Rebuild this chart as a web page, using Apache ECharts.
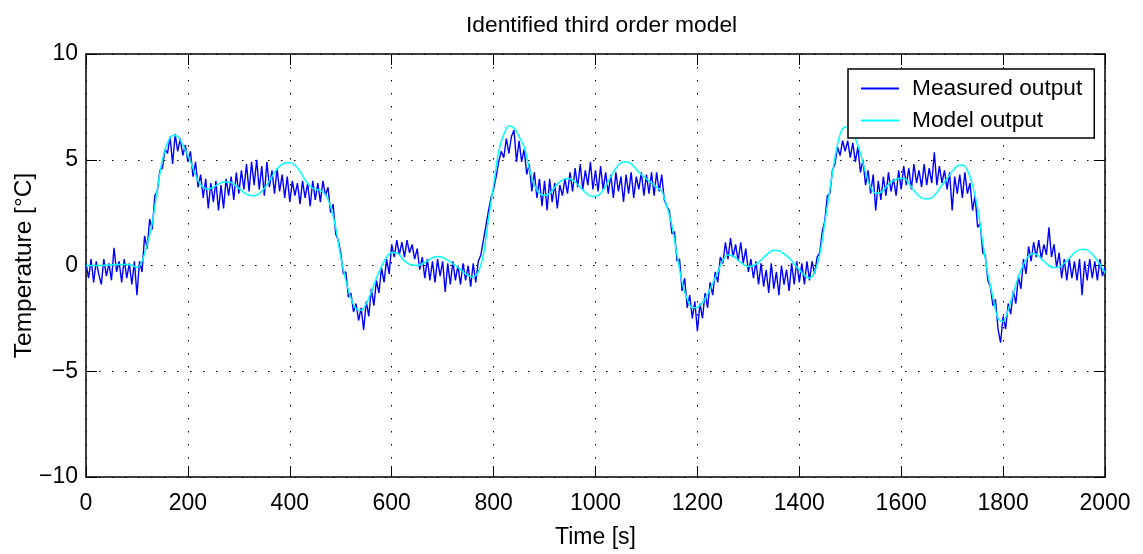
<!DOCTYPE html>
<html>
<head>
<meta charset="utf-8">
<script src="https://cdn.jsdelivr.net/npm/echarts@6/dist/echarts.min.js"></script>
<style>
  html, body { margin: 0; padding: 0; background: #fff; }
  #chart { width: 1143px; height: 554px; }
</style>
</head>
<body>
<div id="chart"></div>
<script>
// measured output, one sample every 5 s from t = 0
var measuredStep = 5;
var measured = [
  0.1,-0.6,0.3,-0.8,0.2,-0.4,-0.9,0.3,-0.5,0.1,-0.7,0.84,-0.3,0.2,-0.8,0.3,-0.6,0.1,-0.9,0.2,
  -1.4,0.2,-0.3,1.4,0.8,2.2,1.7,3.3,3.5,4.5,4.6,5.5,5.3,6.1,4.8,6.2,5.4,6.0,5.2,5.7,
  4.9,5.4,4.2,4.9,3.7,4.3,3.2,4.1,2.7,3.9,3.0,4.0,2.6,3.8,2.7,4.1,3.3,4.2,3.1,4.4,
  3.4,4.5,3.6,4.8,3.5,4.9,3.8,5.0,3.6,4.7,3.3,4.9,3.7,4.5,3.4,4.6,3.5,4.3,3.2,4.2,
  3.0,4.0,3.3,3.9,2.9,4.0,3.2,3.9,2.8,4.0,3.1,3.9,3.0,4.0,3.3,3.7,2.5,2.9,1.5,1.2,
  0.6,-0.4,-0.3,-1.5,-1.3,-2.2,-1.8,-2.6,-2.0,-3.05,-1.7,-2.4,-1.1,-1.9,-0.7,-1.3,-0.1,-0.8,0.3,-0.4,
  1.0,0.4,1.2,0.5,1.1,0.4,1.2,0.6,1.0,0.3,0.8,-0.2,0.4,-0.6,0.3,-0.7,0.2,-0.8,0.3,-0.5,
  0.2,-1.25,0.1,-0.9,0.2,-0.7,0.0,-0.9,0.1,-0.7,0.0,-1.0,0.1,-0.8,0.2,0.5,1.2,1.9,2.6,3.2,
  3.6,4.2,4.9,5.4,5.1,6.0,5.3,6.1,6.4,4.9,5.9,4.9,5.5,4.3,4.8,3.5,4.4,3.2,4.1,2.8,
  4.0,2.6,4.1,3.0,3.9,2.7,3.8,3.3,4.1,3.4,4.4,3.5,4.6,3.7,4.8,3.6,4.5,3.8,4.9,3.6,
  4.5,3.5,4.7,3.6,4.4,3.4,4.3,3.2,4.4,3.5,4.2,3.0,4.3,3.4,4.4,3.2,4.2,3.6,4.4,3.3,
  4.3,3.4,4.4,3.3,4.4,3.5,4.3,3.1,2.8,2.6,1.5,1.6,0.2,0.3,-1.2,-0.6,-2.0,-1.4,-2.5,-1.7,
  -3.1,-1.8,-2.5,-1.3,-2.0,-0.8,-1.4,-0.3,-0.8,0.4,0.1,1.1,0.3,1.3,0.4,1.0,0.2,1.1,0.1,0.8,
  -0.3,0.3,-0.6,0.2,-0.9,0.1,-1.0,-0.2,-1.3,0.1,-1.1,-0.3,-1.4,0.0,-0.9,-0.2,-1.2,0.1,-0.9,0.2,
  -0.8,0.1,-0.9,0.2,-0.7,0.2,-0.4,0.4,0.6,1.6,2.1,3.3,3.4,4.5,4.8,5.6,5.2,5.9,5.4,5.9,
  5.1,5.8,4.9,5.6,4.4,5.0,3.8,4.5,3.4,4.3,2.6,4.0,3.1,4.2,3.3,4.4,3.5,4.1,3.3,4.5,
  3.6,4.7,3.8,4.6,3.6,4.8,3.9,4.5,3.7,4.8,3.8,4.6,3.9,5.35,3.8,4.7,3.9,4.5,3.6,4.4,
  2.6,4.2,3.4,4.3,3.2,4.4,3.4,3.9,2.6,3.3,1.8,2.0,0.6,0.5,-0.7,-1.0,-1.9,-1.6,-3.0,-3.65,
  -2.4,-3.0,-1.8,-2.3,-1.2,-1.8,-0.5,-1.1,0.3,-0.4,0.9,0.2,1.1,0.4,1.2,0.3,1.0,0.5,1.8,0.4,
  1.0,-0.1,0.6,-0.6,0.3,-0.7,0.3,-0.6,0.2,-0.7,0.3,-1.4,0.2,-0.7,0.3,-0.6,0.2,-0.7,0.3,-0.5,
  -0.1
];

// model output, one sample every 10 s from t = 0
var modelStep = 10;
var model = [
  0.0,0.0,0.0,0.0,0.02,0.03,0.05,0.05,0.05,0.02,
  -0.1,0.2,1.0,2.0,3.6,5.0,5.8,6.15,6.1,5.7,
  5.2,4.6,4.0,3.7,3.62,3.7,3.85,3.95,3.95,3.85,
  3.65,3.45,3.32,3.3,3.4,3.65,4.0,4.4,4.7,4.85,
  4.87,4.75,4.45,4.05,3.75,3.6,3.55,3.35,2.8,1.8,
  0.4,-0.7,-1.55,-2.05,-2.12,-1.8,-1.25,-0.6,-0.05,0.4,
  0.6,0.6,0.35,0.12,0.02,0.0,0.08,0.22,0.37,0.42,
  0.38,0.25,0.08,-0.08,-0.3,-0.48,-0.53,-0.3,0.5,2.2,
  3.8,5.4,6.2,6.6,6.5,6.1,5.6,4.6,3.8,3.4,
  3.32,3.4,3.7,3.95,4.1,4.1,3.95,3.7,3.45,3.28,
  3.27,3.4,3.75,4.2,4.6,4.85,4.9,4.8,4.55,4.3,
  4.1,3.9,3.7,3.5,2.8,1.9,0.5,-0.8,-1.6,-2.0,
  -1.98,-1.75,-1.35,-0.85,-0.3,0.25,0.5,0.45,0.25,0.05,
  -0.05,0.0,0.15,0.38,0.6,0.72,0.7,0.55,0.35,0.08,
  -0.2,-0.45,-0.6,-0.3,0.5,2.0,3.6,5.1,6.2,6.55,
  6.4,6.0,5.3,4.4,3.7,3.42,3.45,3.7,3.95,4.08,
  4.12,4.05,3.7,3.4,3.2,3.14,3.2,3.45,3.8,4.1,
  4.45,4.7,4.75,4.5,3.8,2.7,1.1,-0.4,-1.5,-2.5,
  -2.65,-2.1,-1.3,-0.55,0.05,0.45,0.58,0.45,0.2,0.0,
  -0.1,-0.08,0.1,0.35,0.6,0.75,0.77,0.65,0.4,0.05,
  -0.35
];

var xTicks = {min: 0, max: 2000, interval: 200};
var yTicks = {min: -10, max: 10, interval: 5};

function toPairs(values, step) {
  return values.map(function (v, i) { return [i * step, v]; });
}

var font = 'Liberation Sans, Arial, Helvetica, sans-serif';
var chart = echarts.init(document.getElementById('chart'));

var baseAxis = {
  axisLine: {show: true, onZero: false, lineStyle: {color: '#000', width: 1.5}},
  axisTick: {show: true, inside: true, length: 11, lineStyle: {color: '#000', width: 1}},
  splitLine: {show: false}
};

// matlab style: plain numbers, real minus sign
function tickFmt(v) {
  return String(v).replace('-', '\u2212');
}

var option = {
  animation: false,
  backgroundColor: '#fff',
  title: {
    text: 'Identified third order model',
    left: 461,
    top: 9,
    textStyle: {fontFamily: font, fontSize: 22.8, fontWeight: 'normal', color: '#000'}
  },
  grid: {left: 86, right: 38, top: 54, bottom: 77, containLabel: false, outerBoundsMode: 'none'},
  legend: {
    orient: 'vertical',
    left: 848,
    top: 69,
    width: 246,
    padding: [8, 12, 6, 13],
    itemGap: 9,
    itemWidth: 38,
    itemHeight: 2,
    icon: 'rect',
    backgroundColor: '#fff',
    borderColor: '#000',
    borderWidth: 1.5,
    borderRadius: 0,
    textStyle: {fontFamily: font, fontSize: 22.7, color: '#000', padding: [0, 0, 0, 8]},
    data: ['Measured output', 'Model output']
  },
  xAxis: [
    Object.assign({}, baseAxis, {
      type: 'value', position: 'bottom',
      min: xTicks.min, max: xTicks.max, interval: xTicks.interval,
      name: 'Time [s]', nameLocation: 'middle', nameGap: 49, nameMoveOverlap: false,
      nameTextStyle: {fontFamily: font, fontSize: 23, color: '#000'},
      axisLabel: {fontFamily: font, fontSize: 23, color: '#000', margin: 15, formatter: tickFmt},
      splitLine: {show: true, lineStyle: {color: '#000', width: 1, type: [1.5, 11.5]}}
    }),
    Object.assign({}, baseAxis, {
      type: 'value', position: 'top',
      min: xTicks.min, max: xTicks.max, interval: xTicks.interval,
      axisLabel: {show: false}
    })
  ],
  yAxis: [
    Object.assign({}, baseAxis, {
      type: 'value', position: 'left',
      min: yTicks.min, max: yTicks.max, interval: yTicks.interval,
      name: 'Temperature [\u00b0C]', nameLocation: 'middle', nameGap: 49, nameMoveOverlap: false,
      nameTextStyle: {fontFamily: font, fontSize: 24.5, color: '#000'},
      axisLabel: {fontFamily: font, fontSize: 23, color: '#000', margin: 8, formatter: tickFmt},
      splitLine: {show: true, lineStyle: {color: '#000', width: 1, type: [1.5, 11.5]}}
    }),
    Object.assign({}, baseAxis, {
      type: 'value', position: 'right',
      min: yTicks.min, max: yTicks.max, interval: yTicks.interval,
      axisLabel: {show: false}
    })
  ],
  series: [
    {
      name: 'Measured output',
      type: 'line',
      showSymbol: false,
      color: '#0000ff',
      lineStyle: {color: '#0000ff', width: 1.4},
      data: toPairs(measured, measuredStep)
    },
    {
      name: 'Model output',
      type: 'line',
      showSymbol: false,
      smooth: 0.3,
      color: '#00ffff',
      lineStyle: {color: '#00ffff', width: 1.5},
      data: toPairs(model, modelStep)
    }
  ]
};
chart.setOption(option);
</script>
</body>
</html>
